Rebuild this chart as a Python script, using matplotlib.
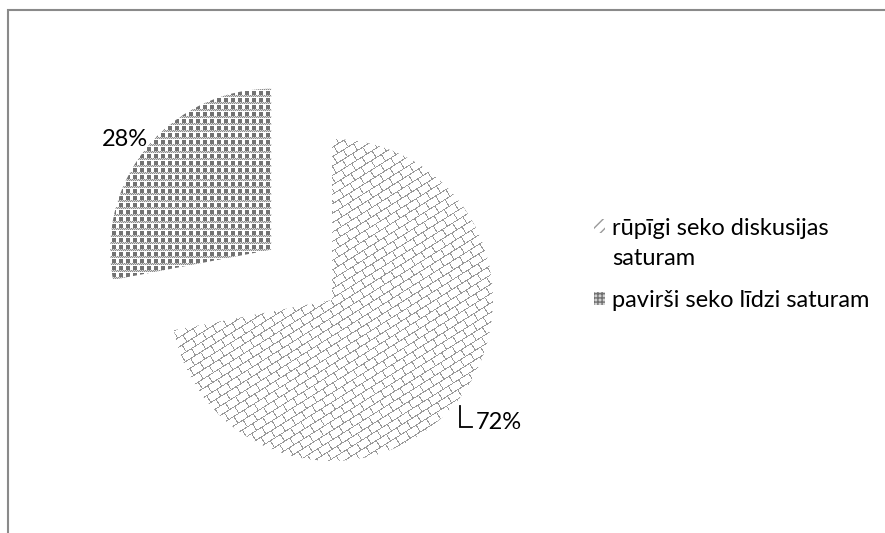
import textwrap
import numpy as np
import matplotlib
matplotlib.use("Agg")
import matplotlib.pyplot as plt
from matplotlib.patches import Patch, Rectangle
from matplotlib.legend_handler import HandlerPatch

# data
categories = ["rūpīgi seko diskusijas saturam", "pavirši seko līdzi saturam"]
shares = [72, 28]
pct_labels = [f"{v}%" for v in shares]

plt.rcParams["font.family"] = ["Lato", "DejaVu Sans"]

W_PX, H_PX = 885, 533
fig = plt.figure(figsize=(W_PX / 100, H_PX / 100), dpi=100)

# axes placed so the pie centre sits at (332, 300) px with radius ~161 px
AX_PX = 483
cx, cy = 332, 300
xlim, ylim = (-1.5, 1.5), (-1.4, 1.6)
ppu = AX_PX / 3.0  # pixels per data unit
left = (cx - 1.5 * ppu) / W_PX
bottom = (H_PX - (cy + 1.4 * ppu)) / H_PX
ax = fig.add_axes([left, bottom, AX_PX / W_PX, AX_PX / H_PX])
ax.set_axis_off()

wedges, _ = ax.pie(shares, startangle=90, counterclock=False,
                   explode=[0, 0.49], colors=["white", "white"],
                   wedgeprops=dict(linewidth=0))

# --- fill textures (pixel patterns, clipped to each wedge) ---
yy, xx = np.mgrid[0:AX_PX, 0:AX_PX].astype(float)

def brick_texture():
    a = np.deg2rad(32)
    u = xx * np.cos(a) - yy * np.sin(a)
    v = xx * np.sin(a) + yy * np.cos(a)
    row = np.floor(v / 8.0)
    on_row = (v % 8.0) < 1.0
    on_joint = ((u + (row % 2) * 6.0) % 12.0) < 1.0
    img = np.ones((AX_PX, AX_PX, 3))
    img[on_row | on_joint] = 0.6
    return img

def trellis_texture():
    ix, iy = xx.astype(int), yy.astype(int)
    px, py = ix % 7, iy % 7
    dith = ((ix + iy) % 2) == 0
    img = np.ones((AX_PX, AX_PX, 3))
    img[(px < 4) & (py < 4)] = 0.45
    band = (py >= 4) & (py <= 5)
    img[band & dith] = 0.55
    img[band & ~dith] = 0.85
    return img

for w, tex in zip(wedges, [brick_texture(), trellis_texture()]):
    im = ax.imshow(tex, extent=(*xlim, *ylim), interpolation="nearest",
                   zorder=w.get_zorder() + 0.1)
    im.set_clip_path(w)

ax.set_xlim(*xlim)
ax.set_ylim(*ylim)
ax.set_aspect("equal")

# --- percentage labels ---
s = 1.0 / ppu
fs = 17
# 72% with the L-shaped leader
w0 = wedges[0]
mid = np.deg2rad((w0.theta1 + w0.theta2) / 2)
x0 = w0.center[0] + 1.03 * np.cos(mid)
y0 = w0.center[1] + 1.03 * np.sin(mid)
ax.plot([x0, x0, x0 + 12 * s], [y0, y0 - 21 * s, y0 - 21 * s],
        color="black", lw=1.3, solid_joinstyle="miter")
ax.text(x0 + 16 * s, y0 - 17 * s, pct_labels[0], ha="left", va="center",
        fontsize=fs, color="black")
# 28% on the exploded slice
w1 = wedges[1]
mid = np.deg2rad((w1.theta1 + w1.theta2) / 2 + 2.5)
ax.text(w1.center[0] + 1.14 * np.cos(mid), w1.center[1] + 1.14 * np.sin(mid),
        pct_labels[1], ha="center", va="center", fontsize=fs, color="black")

# --- legend ---
def raised_box(shift):
    def make(legend, orig_handle, xdescent, ydescent, width, height, fontsize):
        return Rectangle((-xdescent, -ydescent + shift * fontsize), width, height)
    return HandlerPatch(patch_func=make)

handles = [
    Patch(facecolor="white", edgecolor="#9a9a9a", hatch="///", linewidth=0),
    Patch(facecolor="#d0d0d0", edgecolor="#707070", hatch="++++", linewidth=0),
]
labels = [textwrap.fill(c, 26) for c in categories]
leg = fig.legend(handles, labels, loc="upper left", bbox_to_anchor=(0.66, 0.608),
                 frameon=False, fontsize=fs, handlelength=0.5, handleheight=0.5,
                 handletextpad=0.3, labelspacing=0.9, borderaxespad=0,
                 handler_map={handles[0]: raised_box(0.75)})
for t in leg.get_texts():
    t.set_linespacing(1.48)

# outer gray frame (only top/left edges fall inside the image)
fig.add_artist(Rectangle((7.5 / W_PX, -0.1), 1.2, (H_PX - 10.5) / H_PX + 0.1,
                         transform=fig.transFigure, fill=False,
                         edgecolor="#8a8a8a", linewidth=1.5))

fig.savefig("out.png", dpi=100)
